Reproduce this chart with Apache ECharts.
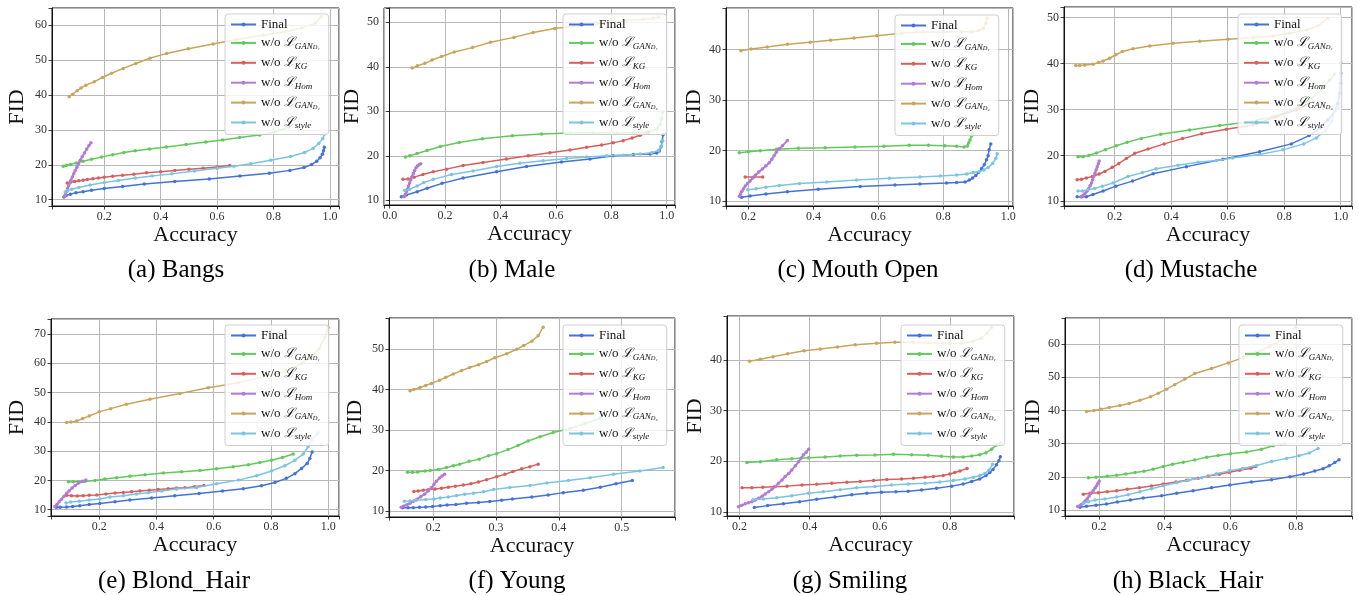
<!DOCTYPE html>
<html><head><meta charset="utf-8">
<script src="https://cdn.jsdelivr.net/npm/echarts@6/dist/echarts.min.js"></script>
<style>html,body{margin:0;padding:0;background:#fff}#c{width:1359px;height:596px}</style>
</head><body><div id="c"></div>
<script>
// ---------- labels ----------
const captions = ['(a) Bangs','(b) Male','(c) Mouth Open','(d) Mustache','(e) Blond_Hair','(f) Young','(g) Smiling','(h) Black_Hair'];
const seriesNames = ['Final','w/o GAN_D1','w/o KG','w/o Hom','w/o GAN_D2','w/o style'];
const xAxisName = 'Accuracy';
const yAxisName = 'FID';
// axis value ranges and tick steps
const xRanges = [[0.015,1.032],[-0.0206,1.03],[0.131,1.0145],[0.0205,1.04],[0.0313,1.038],[0.1295,0.585],[0.164,0.983],[0.0964,0.9715]];
const yRanges = [[8.2,64.9],[8.94,53.2],[9.07,48.2],[8.98,52.3],[7.85,75.1],[8.6,57.6],[9.2,48.7],[8.28,67.8]];
const xSteps = [0.2,0.2,0.2,0.2,0.2,0.1,0.2,0.2];
const ySteps = [10,10,10,10,10,10,10,10];

// ---------- (a) Bangs ----------
const A_final=[[0.057,10.8],[0.065,11.2],[0.08,11.6],[0.1,12.0],[0.125,12.3],[0.155,12.7],[0.2,13.2],[0.265,13.8],[0.342,14.5],[0.45,15.2],[0.572,15.9],[0.681,16.8],[0.785,17.6],[0.858,18.4],[0.908,19.2],[0.935,20.1],[0.953,21.0],[0.965,22.0],[0.973,23.0],[0.977,24.0],[0.98,25.0]];
const A_gan1=[[0.055,19.6],[0.065,19.8],[0.08,20.1],[0.1,20.5],[0.125,21.0],[0.155,21.6],[0.19,22.2],[0.23,22.9],[0.27,23.5],[0.31,24.0],[0.36,24.5],[0.42,25.1],[0.49,25.8],[0.56,26.5],[0.62,27.1],[0.68,27.8],[0.75,28.5],[0.8,29.3],[0.855,30.8]];
const A_kg=[[0.069,14.8],[0.08,15.0],[0.095,15.2],[0.11,15.4],[0.125,15.6],[0.14,15.8],[0.16,16.0],[0.18,16.2],[0.2,16.4],[0.23,16.7],[0.265,17.0],[0.305,17.3],[0.35,17.7],[0.4,18.0],[0.45,18.4],[0.5,18.7],[0.55,19.0],[0.6,19.4],[0.645,19.8]];
const A_hom=[[0.06,10.9],[0.063,11.6],[0.066,12.3],[0.07,13.2],[0.074,14.0],[0.078,14.8],[0.082,15.6],[0.087,16.5],[0.092,17.4],[0.097,18.3],[0.103,19.3],[0.109,20.3],[0.115,21.3],[0.122,22.3],[0.13,23.4],[0.138,24.5],[0.146,25.5],[0.153,26.3]];
const A_gan2=[[0.076,39.5],[0.088,40.2],[0.104,41.2],[0.118,42.0],[0.135,42.8],[0.165,43.8],[0.194,45.0],[0.226,46.2],[0.267,47.6],[0.312,49.0],[0.362,50.5],[0.421,51.9],[0.498,53.2],[0.586,54.6],[0.669,55.9],[0.764,57.1],[0.84,58.1],[0.9,59.2],[0.947,60.5],[0.968,62.3]];
const A_style=[[0.062,12.2],[0.07,12.6],[0.085,13.0],[0.11,13.5],[0.15,14.2],[0.2,14.9],[0.25,15.5],[0.31,16.2],[0.37,16.8],[0.44,17.4],[0.52,18.2],[0.6,19.0],[0.66,19.6],[0.72,20.3],[0.79,21.3],[0.86,22.4],[0.91,23.5],[0.94,24.7],[0.96,26.1],[0.975,27.5],[0.98,28.8]];
// ---------- (b) Male ----------
const B_final=[[0.042,10.8],[0.06,11.2],[0.099,11.9],[0.135,12.7],[0.189,13.8],[0.265,15.0],[0.386,16.4],[0.494,17.6],[0.62,18.6],[0.723,19.3],[0.807,20.0],[0.88,20.3],[0.94,20.4],[0.964,20.6],[0.973,21.1],[0.98,22.0],[0.983,23.2],[0.987,24.7]];
const B_gan1=[[0.057,19.7],[0.072,20.0],[0.099,20.5],[0.135,21.2],[0.183,22.1],[0.251,23.0],[0.335,23.8],[0.443,24.5],[0.548,24.9],[0.651,25.1],[0.735,25.1],[0.819,25.1],[0.88,25.1],[0.934,25.4],[0.964,26.0],[0.976,27.0],[0.982,28.4],[0.986,29.9]];
const B_kg=[[0.048,14.7],[0.066,14.8],[0.088,15.2],[0.12,15.8],[0.157,16.4],[0.205,17.0],[0.265,17.8],[0.337,18.5],[0.422,19.3],[0.5,20.0],[0.578,20.7],[0.651,21.3],[0.711,21.9],[0.765,22.4],[0.807,22.9],[0.843,23.4],[0.875,24.0],[0.904,24.6],[0.934,25.2]];
const B_hom=[[0.052,10.8],[0.056,11.3],[0.06,11.9],[0.064,12.5],[0.068,13.2],[0.072,13.9],[0.076,14.6],[0.08,15.3],[0.085,16.0],[0.09,16.7],[0.095,17.3],[0.1,17.7],[0.106,18.0],[0.112,18.2]];
const B_gan2=[[0.081,39.7],[0.1,40.2],[0.127,40.8],[0.153,41.5],[0.187,42.3],[0.233,43.3],[0.299,44.3],[0.364,45.5],[0.448,46.6],[0.518,47.7],[0.596,48.6],[0.681,49.2],[0.771,49.8],[0.855,50.4],[0.916,50.7],[0.952,50.9],[0.97,51.1]];
const B_style=[[0.054,12.2],[0.072,12.5],[0.099,13.2],[0.123,14.0],[0.157,14.7],[0.223,15.8],[0.301,16.6],[0.386,17.6],[0.47,18.3],[0.554,18.9],[0.639,19.4],[0.711,19.7],[0.783,20.0],[0.843,20.1],[0.904,20.4],[0.946,20.7],[0.97,21.2],[0.98,22.1],[0.986,23.4]];
// ---------- (c) Mouth Open ----------
const C_final=[[0.179,10.8],[0.205,11.05],[0.254,11.45],[0.32,11.9],[0.415,12.4],[0.544,12.9],[0.651,13.2],[0.728,13.4],[0.81,13.6],[0.841,13.7],[0.867,13.8],[0.88,14.2],[0.89,14.6],[0.9,15.1],[0.908,15.7],[0.918,16.5],[0.926,17.2],[0.933,18.2],[0.938,19.0],[0.941,20.2],[0.946,21.3]];
const C_gan1=[[0.172,19.6],[0.2,19.8],[0.236,20.0],[0.287,20.3],[0.354,20.5],[0.436,20.6],[0.528,20.75],[0.617,20.9],[0.695,21.1],[0.754,21.1],[0.805,21.0],[0.841,20.9],[0.864,20.75],[0.874,20.95],[0.878,21.5],[0.882,22.1],[0.887,22.9],[0.89,23.45]];
const C_kg=[[0.19,14.8],[0.217,14.8],[0.244,14.8]];
const C_hom=[[0.172,11.0],[0.176,11.5],[0.18,12.0],[0.185,12.5],[0.19,13.0],[0.197,13.5],[0.205,14.0],[0.213,14.6],[0.222,15.2],[0.232,15.8],[0.243,16.4],[0.254,17.0],[0.264,17.6],[0.272,18.3],[0.279,19.0],[0.286,19.7],[0.295,20.4],[0.305,21.0],[0.32,22.0]];
const C_gan2=[[0.177,39.75],[0.208,40.1],[0.258,40.5],[0.32,41.05],[0.39,41.45],[0.453,41.85],[0.525,42.25],[0.595,42.7],[0.672,43.2],[0.738,43.45],[0.8,43.45],[0.856,43.5],[0.887,43.5],[0.908,43.7],[0.923,44.2],[0.931,45.2],[0.935,46.2]];
const C_style=[[0.198,12.3],[0.224,12.5],[0.254,12.8],[0.295,13.1],[0.357,13.5],[0.441,13.8],[0.533,14.2],[0.634,14.55],[0.728,14.8],[0.79,15.0],[0.841,15.2],[0.872,15.4],[0.892,15.7],[0.911,15.9],[0.925,16.2],[0.938,16.7],[0.952,17.5],[0.962,18.5],[0.966,19.4]];
// ---------- (d) Mustache ----------
const D_final=[[0.067,11.0],[0.082,11.0],[0.1,11.0],[0.123,11.5],[0.159,12.25],[0.204,13.3],[0.263,14.4],[0.336,16.0],[0.454,17.55],[0.583,19.15],[0.713,20.8],[0.825,22.5],[0.888,24.3],[0.926,25.9],[0.955,27.7],[0.979,29.5],[0.99,31.3],[0.996,33.5],[0.999,35.7],[1.0,37.9],[1.0,40.1]];
const D_gan1=[[0.07,19.7],[0.088,19.7],[0.108,20.0],[0.135,20.5],[0.167,21.25],[0.206,22.1],[0.244,22.85],[0.294,23.7],[0.363,24.6],[0.465,25.5],[0.572,26.5],[0.666,27.2],[0.76,28.4],[0.831,29.9],[0.89,32.1],[0.932,34.25],[0.961,36.4],[0.979,37.7]];
const D_kg=[[0.067,14.7],[0.082,14.8],[0.1,15.1],[0.121,15.4],[0.145,15.95],[0.165,16.5],[0.191,17.4],[0.214,18.2],[0.241,19.3],[0.271,20.45],[0.318,21.4],[0.375,22.5],[0.44,23.65],[0.508,24.7],[0.595,25.7],[0.69,26.6],[0.772,28.4],[0.843,29.9],[0.902,31.7]];
const D_hom=[[0.08,11.0],[0.088,11.3],[0.095,11.7],[0.102,12.2],[0.108,12.8],[0.113,13.4],[0.118,14.0],[0.122,14.7],[0.126,15.4],[0.13,16.1],[0.134,16.8],[0.138,17.5],[0.142,18.2],[0.145,18.8]];
const D_gan2=[[0.062,39.55],[0.076,39.55],[0.094,39.7],[0.123,39.85],[0.143,40.2],[0.159,40.55],[0.182,41.15],[0.204,41.9],[0.227,42.6],[0.265,43.2],[0.324,43.8],[0.406,44.4],[0.501,44.85],[0.601,45.3],[0.69,45.65],[0.76,46.0],[0.819,46.6],[0.878,47.3],[0.92,48.2],[0.955,49.85]];
const D_style=[[0.07,12.25],[0.086,12.25],[0.106,12.5],[0.129,12.8],[0.156,13.3],[0.194,14.0],[0.247,15.4],[0.298,16.25],[0.347,17.1],[0.424,17.85],[0.495,18.5],[0.56,18.9],[0.617,19.45],[0.713,20.2],[0.796,21.2],[0.869,22.5],[0.914,23.8],[0.947,25.5],[0.967,27.35],[0.979,29.5],[0.99,30.5]];
// ---------- (e) Blond_Hair ----------
const E_final=[[0.05,10.8],[0.063,10.8],[0.086,10.9],[0.107,11.1],[0.132,11.35],[0.165,11.8],[0.202,12.15],[0.255,12.7],[0.307,13.3],[0.383,14.0],[0.464,14.8],[0.549,15.55],[0.631,16.35],[0.703,17.15],[0.767,18.2],[0.814,19.3],[0.854,20.7],[0.884,22.3],[0.907,24.1],[0.927,25.8],[0.936,27.5],[0.944,29.7]];
const E_gan1=[[0.092,19.55],[0.109,19.55],[0.127,19.55],[0.15,19.65],[0.185,20.0],[0.22,20.45],[0.261,20.9],[0.307,21.4],[0.36,21.9],[0.424,22.5],[0.488,22.95],[0.552,23.4],[0.61,24.0],[0.668,24.65],[0.721,25.35],[0.761,26.15],[0.802,26.9],[0.84,27.85],[0.878,29.0]];
const E_kg=[[0.086,14.9],[0.103,14.8],[0.123,14.65],[0.144,14.8],[0.165,14.9],[0.191,15.0],[0.223,15.35],[0.255,15.7],[0.284,15.9],[0.313,16.15],[0.342,16.35],[0.375,16.6],[0.406,16.9],[0.441,17.15],[0.47,17.4],[0.499,17.5],[0.534,17.85],[0.566,18.3]];
const E_hom=[[0.045,11.0],[0.052,11.8],[0.06,12.7],[0.068,13.6],[0.077,14.6],[0.086,15.6],[0.095,16.5],[0.105,17.4],[0.116,18.3],[0.128,19.1],[0.14,19.7],[0.153,20.1]];
const E_gan2=[[0.086,39.8],[0.101,39.9],[0.121,40.3],[0.142,41.1],[0.165,42.0],[0.2,43.4],[0.24,44.5],[0.295,46.0],[0.377,47.7],[0.482,49.7],[0.581,51.6],[0.686,53.3],[0.785,55.6],[0.854,57.4],[0.907,59.9],[0.942,62.2],[0.969,65.0],[0.988,68.75],[1.0,72.2]];
const E_style=[[0.084,12.3],[0.1,12.6],[0.13,12.85],[0.165,13.3],[0.202,13.65],[0.237,14.3],[0.284,14.8],[0.33,15.35],[0.371,15.8],[0.418,16.35],[0.47,17.05],[0.54,17.6],[0.61,18.85],[0.686,20.1],[0.75,21.6],[0.802,23.2],[0.849,25.0],[0.884,26.9],[0.913,29.0],[0.93,31.5],[0.942,34.0],[0.965,36.2]];
// ---------- (f) Young ----------
const F_final=[[0.151,10.9],[0.16,10.9],[0.168,10.9],[0.178,11.0],[0.188,11.07],[0.199,11.2],[0.211,11.4],[0.222,11.56],[0.236,11.7],[0.253,12.0],[0.272,12.2],[0.29,12.4],[0.309,12.7],[0.326,13.05],[0.357,13.55],[0.383,14.0],[0.407,14.6],[0.439,15.2],[0.466,15.9],[0.491,16.8],[0.517,17.6]];
const F_gan1=[[0.159,19.6],[0.167,19.6],[0.175,19.7],[0.187,19.9],[0.195,20.04],[0.208,20.3],[0.221,20.8],[0.232,21.2],[0.242,21.6],[0.257,22.3],[0.273,22.85],[0.288,23.7],[0.301,24.2],[0.319,25.2],[0.335,26.2],[0.351,27.3],[0.37,28.35],[0.391,29.4],[0.418,30.4],[0.442,31.6],[0.466,32.9]];
const F_kg=[[0.169,14.9],[0.176,15.0],[0.184,15.2],[0.192,15.3],[0.203,15.5],[0.213,15.7],[0.224,15.9],[0.235,16.2],[0.248,16.5],[0.26,16.8],[0.272,17.2],[0.285,17.8],[0.301,18.5],[0.314,19.1],[0.327,19.8],[0.341,20.45],[0.354,21.0],[0.367,21.6]];
const F_hom=[[0.149,11.0],[0.153,11.3],[0.158,11.6],[0.163,12.0],[0.168,12.5],[0.174,13.0],[0.18,13.6],[0.186,14.2],[0.192,15.0],[0.197,15.8],[0.201,16.6],[0.205,17.4],[0.21,18.2],[0.214,18.7],[0.218,19.1]];
const F_gan2=[[0.163,39.7],[0.169,40.0],[0.179,40.5],[0.188,41.0],[0.197,41.5],[0.21,42.3],[0.22,43.0],[0.232,43.8],[0.245,44.65],[0.258,45.4],[0.272,46.1],[0.285,46.9],[0.298,47.8],[0.317,48.8],[0.333,49.9],[0.344,50.8],[0.357,51.9],[0.367,53.2],[0.375,55.35]];
const F_style=[[0.154,12.45],[0.163,12.55],[0.173,12.7],[0.188,12.9],[0.201,13.05],[0.211,13.3],[0.224,13.55],[0.237,13.9],[0.25,14.2],[0.264,14.45],[0.28,14.8],[0.296,15.35],[0.322,15.85],[0.354,16.35],[0.381,17.0],[0.415,17.6],[0.45,18.25],[0.487,19.1],[0.529,19.9],[0.566,20.8]];
// ---------- (g) Smiling ----------
const G_final=[[0.242,10.9],[0.28,11.25],[0.325,11.6],[0.371,12.0],[0.42,12.5],[0.472,12.96],[0.52,13.4],[0.563,13.7],[0.605,13.9],[0.646,14.0],[0.681,14.1],[0.719,14.35],[0.762,14.7],[0.805,15.1],[0.838,15.5],[0.862,16.0],[0.885,16.5],[0.903,17.2],[0.914,17.8],[0.923,18.4],[0.933,19.3],[0.94,20.1],[0.944,20.9]];
const G_gan1=[[0.221,19.75],[0.259,19.9],[0.306,20.3],[0.349,20.5],[0.397,20.7],[0.444,20.85],[0.487,21.05],[0.534,21.2],[0.586,21.25],[0.639,21.4],[0.691,21.3],[0.738,21.2],[0.776,21.0],[0.81,20.85],[0.838,20.85],[0.862,21.05],[0.885,21.3],[0.903,21.7],[0.919,22.4],[0.933,23.2],[0.945,23.6]];
const G_kg=[[0.207,14.8],[0.235,14.8],[0.266,14.87],[0.299,15.0],[0.335,15.1],[0.378,15.3],[0.42,15.45],[0.463,15.65],[0.506,15.85],[0.544,16.0],[0.582,16.2],[0.62,16.4],[0.662,16.5],[0.696,16.65],[0.729,16.85],[0.753,17.0],[0.781,17.2],[0.8,17.5],[0.814,17.8],[0.829,18.1],[0.849,18.6]];
const G_hom=[[0.197,11.05],[0.206,11.3],[0.216,11.6],[0.225,11.8],[0.235,12.0],[0.245,12.35],[0.254,12.7],[0.264,13.1],[0.273,13.55],[0.283,14.0],[0.292,14.5],[0.302,15.05],[0.311,15.65],[0.321,16.3],[0.33,17.0],[0.34,17.6],[0.349,18.3],[0.359,19.1],[0.368,19.9],[0.375,20.6],[0.382,21.25],[0.39,21.8],[0.397,22.4]];
const G_gan2=[[0.228,39.75],[0.259,40.15],[0.295,40.65],[0.337,41.25],[0.384,41.85],[0.43,42.2],[0.479,42.6],[0.53,43.0],[0.591,43.3],[0.643,43.5],[0.696,43.5],[0.738,43.4],[0.781,43.3],[0.8,43.2],[0.833,43.3],[0.866,43.7],[0.89,44.3],[0.906,45.3],[0.919,46.45]];
const G_style=[[0.238,12.4],[0.268,12.55],[0.306,12.8],[0.349,13.2],[0.397,13.7],[0.439,14.0],[0.487,14.4],[0.534,14.8],[0.586,15.05],[0.634,15.3],[0.681,15.5],[0.729,15.65],[0.771,15.9],[0.81,16.2],[0.843,16.5],[0.867,16.85],[0.886,17.2],[0.9,17.6],[0.912,18.3],[0.922,19.4]];
// ---------- (h) Black_Hair ----------
const H_final=[[0.142,10.9],[0.162,11.2],[0.191,11.5],[0.223,11.9],[0.256,12.5],[0.296,13.1],[0.335,13.7],[0.391,14.4],[0.437,15.1],[0.487,15.9],[0.543,16.8],[0.599,17.6],[0.665,18.5],[0.726,19.2],[0.782,20.1],[0.824,20.9],[0.858,21.8],[0.883,22.5],[0.902,23.35],[0.919,24.35],[0.932,25.2]];
const H_gan1=[[0.168,19.8],[0.191,19.9],[0.225,20.2],[0.254,20.5],[0.282,20.9],[0.31,21.35],[0.337,21.75],[0.365,22.35],[0.396,23.15],[0.424,23.85],[0.457,24.45],[0.492,25.15],[0.528,25.95],[0.563,26.45],[0.601,27.0],[0.65,27.55],[0.695,28.35],[0.731,29.4],[0.767,30.0]];
const H_kg=[[0.152,14.8],[0.173,15.1],[0.198,15.3],[0.225,15.6],[0.254,15.9],[0.286,16.3],[0.323,16.8],[0.36,17.3],[0.396,17.9],[0.435,18.5],[0.467,19.0],[0.503,19.6],[0.533,20.3],[0.567,20.8],[0.597,21.45],[0.629,22.05],[0.663,22.65],[0.678,23.15]];
const H_hom=[[0.135,11.1],[0.14,11.3],[0.146,11.7],[0.152,12.2],[0.158,12.8],[0.164,13.5],[0.17,14.3],[0.176,15.1],[0.182,15.9],[0.188,16.7],[0.193,17.4],[0.197,18.1],[0.201,18.8]];
const H_gan2=[[0.162,39.7],[0.185,40.0],[0.205,40.4],[0.231,40.9],[0.264,41.5],[0.292,42.1],[0.325,43.1],[0.357,44.1],[0.381,45.2],[0.406,46.4],[0.431,47.75],[0.462,49.45],[0.492,51.1],[0.543,52.6],[0.594,54.3],[0.64,55.9],[0.68,57.5],[0.721,59.3],[0.762,61.5],[0.8,65.0]];
const H_style=[[0.152,12.1],[0.168,12.6],[0.188,13.1],[0.218,13.4],[0.254,14.0],[0.289,14.7],[0.325,15.6],[0.36,16.5],[0.396,17.4],[0.437,18.3],[0.472,19.0],[0.513,19.8],[0.558,21.0],[0.597,21.85],[0.638,22.55],[0.68,23.45],[0.726,24.65],[0.772,25.6],[0.81,26.4],[0.841,27.2],[0.868,28.6]];

const panels = [
  [A_final,A_gan1,A_kg,A_hom,A_gan2,A_style],
  [B_final,B_gan1,B_kg,B_hom,B_gan2,B_style],
  [C_final,C_gan1,C_kg,C_hom,C_gan2,C_style],
  [D_final,D_gan1,D_kg,D_hom,D_gan2,D_style],
  [E_final,E_gan1,E_kg,E_hom,E_gan2,E_style],
  [F_final,F_gan1,F_kg,F_hom,F_gan2,F_style],
  [G_final,G_gan1,G_kg,G_hom,G_gan2,G_style],
  [H_final,H_gan1,H_kg,H_hom,H_gan2,H_style]
];

// ---------- layout / style ----------
const colors = ['#4373d6','#62c95c','#d65f5f','#b47bd3','#c8a55c','#7cc4e1'];
const gridBoxes = [[52,8,287,198],[384,8,291,197],[726,8,287,198],[1064,7,288,199],[51,319,288,197],[389,318,286,199],[727,316,287,200],[1065,318,287,198]];
const yNameGaps = [24,18,20,20,23,23,21,21];
const legendPos = [[225,14],[563,14],[895,15],[1238,14],[225,325],[563,325],[901,325],[1239,325]];
const captionPos = [[176,270],[512,270],[858,270],[1191,270],[174,581],[517,581],[850,581],[1188,581]];
const SERIF = '"Liberation Serif", "DejaVu Serif", serif';

function fmt(step, dec){
  return function(v){
    const r = Math.round(v/step);
    if (Math.abs(v - r*step) > step*1e-4) return '';
    return (r*step).toFixed(dec);
  };
}
const legendRich = {
  t:{fontFamily:SERIF,fontSize:13,color:'#111',lineHeight:16,verticalAlign:'middle'},
  L:{fontFamily:'"DejaVu Serif", serif',fontSize:13,fontStyle:'italic',color:'#111',lineHeight:16,verticalAlign:'middle'},
  s:{fontFamily:SERIF,fontSize:9,fontStyle:'italic',color:'#111',lineHeight:9,verticalAlign:'bottom'},
  ss:{fontFamily:SERIF,fontSize:6.5,fontStyle:'italic',color:'#111',lineHeight:5,verticalAlign:'bottom'}
};
function legendFmt(name){
  switch(name){
    case 'Final': return '{t|Final}';
    case 'w/o GAN_D1': return '{t|w/o }{L|ℒ}{s|GAN}{ss|D₁}';
    case 'w/o KG': return '{t|w/o }{L|ℒ}{s|KG}';
    case 'w/o Hom': return '{t|w/o }{L|ℒ}{s|Hom}';
    case 'w/o GAN_D2': return '{t|w/o }{L|ℒ}{s|GAN}{ss|D₂}';
    case 'w/o style': return '{t|w/o }{L|ℒ}{s|style}';
  }
  return name;
}

const grid=[], xAxis=[], yAxis=[], series=[], legend=[], graphic=[];
for (let p=0;p<8;p++){
  const g = gridBoxes[p];
  grid.push({left:g[0],top:g[1],width:g[2],height:g[3],show:true,borderColor:'#111',borderWidth:1,backgroundColor:'transparent'});
  xAxis.push({type:'value',gridIndex:p,min:xRanges[p][0],max:xRanges[p][1],splitNumber:5,
    name:xAxisName,nameLocation:'middle',nameGap:18,
    nameTextStyle:{fontFamily:SERIF,fontSize:22,color:'#111'},
    axisLine:{show:true,lineStyle:{color:'#111',width:1}},
    axisTick:{show:true,inside:false,length:3.5,lineStyle:{color:'#111',width:0.8}},
    axisLabel:{show:true,margin:5,fontFamily:SERIF,fontSize:12,color:'#333',formatter:fmt(xSteps[p],1),hideOverlap:false},
    splitLine:{show:true,lineStyle:{color:'#b8b8b8',width:1}}
  });
  yAxis.push({type:'value',gridIndex:p,min:yRanges[p][0],max:yRanges[p][1],splitNumber:5,
    name:yAxisName,nameLocation:'middle',nameGap:yNameGaps[p],nameRotate:90,
    nameTextStyle:{fontFamily:SERIF,fontSize:22,color:'#111'},
    axisLine:{show:true,lineStyle:{color:'#111',width:1}},
    axisTick:{show:true,inside:false,length:3.5,lineStyle:{color:'#111',width:0.8}},
    axisLabel:{show:true,margin:5,fontFamily:SERIF,fontSize:12,color:'#333',formatter:fmt(ySteps[p],0),hideOverlap:false},
    splitLine:{show:true,lineStyle:{color:'#b8b8b8',width:1}}
  });
  panels[p].forEach((data,k)=>{
    series.push({type:'line',name:seriesNames[k],xAxisIndex:p,yAxisIndex:p,data:data,
      symbol:'circle',symbolSize:3.5,showSymbol:true,smooth:false,
      lineStyle:{width:k===3?2:1.5,color:colors[k]},itemStyle:{color:colors[k]},
      z:2+k,silent:true,animation:false,clip:true});
  });
  legend.push({orient:'vertical',left:legendPos[p][0],top:legendPos[p][1],
    data:seriesNames.slice(),itemWidth:25,itemHeight:5,itemGap:5.4,
    padding:[4,9,4,5],backgroundColor:'rgba(255,255,255,0.82)',borderColor:'#cfcfcf',borderWidth:1,borderRadius:3,
    formatter:legendFmt,textStyle:{fontFamily:SERIF,fontSize:13,color:'#111',rich:legendRich},
    selectedMode:false,z:20});
  graphic.push({type:'text',x:captionPos[p][0],y:captionPos[p][1],
    style:{text:captions[p],font:'25px "Liberation Serif", serif',fill:'#000',align:'center',verticalAlign:'middle'}});
}

const chart = echarts.init(document.getElementById('c'),null,{renderer:'canvas'});
chart.setOption({animation:false,color:colors,grid,xAxis,yAxis,series,legend,graphic});
</script>
</body></html>
